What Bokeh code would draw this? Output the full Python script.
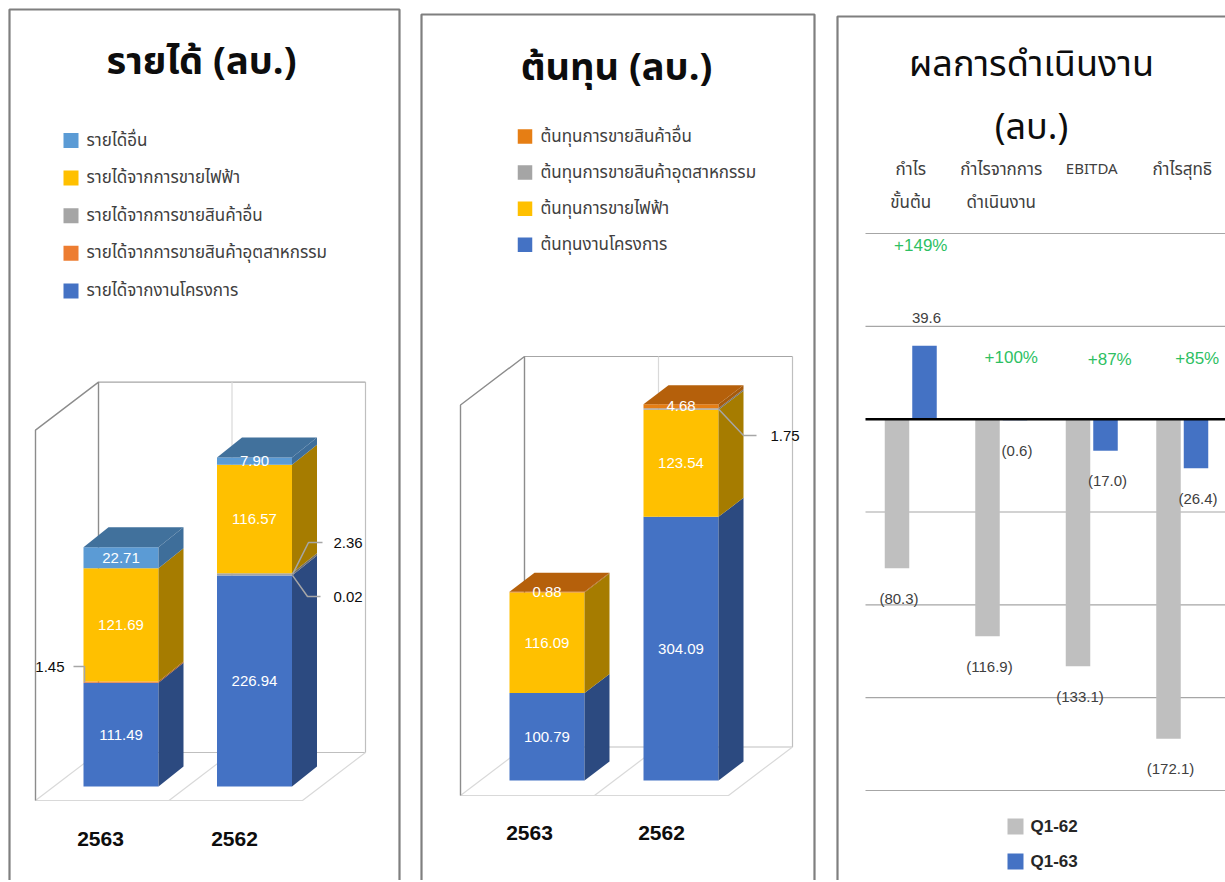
from bokeh.plotting import figure
from bokeh.layouts import row
from bokeh.models import Range1d
from bokeh.core.properties import value
from bokeh.embed import file_html
from bokeh.resources import INLINE

# ---------------- data ----------------
years = ["2563", "2562"]

rev_names = ["รายได้จากงานโครงการ", "รายได้จากการขายสินค้าอุตสาหกรรม",
             "รายได้จากการขายสินค้าอื่น", "รายได้จากการขายไฟฟ้า", "รายได้อื่น"]
rev_project = [111.49, 226.94]
rev_industrial = [1.45, 0.02]
rev_other_goods = [0.00, 2.36]
rev_electricity = [121.69, 116.57]
rev_other = [22.71, 7.90]

cost_names = ["ต้นทุนงานโครงการ", "ต้นทุนการขายไฟฟ้า",
              "ต้นทุนการขายสินค้าอุตสาหกรรม", "ต้นทุนการขายสินค้าอื่น"]
cost_project = [100.79, 304.09]
cost_electricity = [116.09, 123.54]
cost_industrial = [0.00, 1.75]
cost_other = [0.88, 4.68]

perf_cats = ["กำไร\nขั้นต้น", "กำไรจากการ\nดำเนินงาน", "EBITDA", "กำไรสุทธิ"]
perf_series = ["Q1-62", "Q1-63"]
perf_q1_62 = [-80.3, -116.9, -133.1, -172.1]
perf_q1_63 = [39.6, -0.6, -17.0, -26.4]
perf_change = ["+149%", "+100%", "+87%", "+85%"]
perf_ticks = [100, 50, 0, -50, -100, -150, -200]

titles = ["รายได้ (ลบ.)", "ต้นทุน (ลบ.)", "ผลการดำเนินงาน", "(ลบ.)"]

# ---------------- styles ----------------
THAI = value("Noto Sans Thai, Noto Sans, Tahoma, sans-serif")
LAT = value("Liberation Sans, Arial, sans-serif")
BORDER = "#7F7F7F"
TOP_PAGE, BOT_PAGE = 0, 880
H = BOT_PAGE - TOP_PAGE


def make_fig(x0, x1, v0, s):
    p = figure(width=int(x1 - x0), height=H, x_range=Range1d(x0, x1),
               y_range=Range1d((v0 - BOT_PAGE) / s, (v0 - TOP_PAGE) / s),
               x_axis_type=None, y_axis_type=None, toolbar_location=None,
               output_backend="svg", min_border=0, outline_line_color=None,
               title=None, background_fill_color="white",
               border_fill_color="white")
    return p, (lambda py: (v0 - py) / s)


def line(p, Y, pts, color, width=1.0):
    p.line([a for a, _ in pts], [Y(b) for _, b in pts], line_color=color,
           line_width=width)


def txt(p, x, y, t, size, color, font, align="center", style="normal"):
    p.text(x=[x], y=[y], text=[t], text_font_size=size, text_color=color,
           text_font=font, text_align=align, text_baseline="middle",
           text_font_style=style)


def border(p, Y, left, top, right):
    pts = [(left, 1000), (left, top), (right, top)]
    if right < 1300:
        pts.append((right, 1000))
    line(p, Y, pts, BORDER, 2.2)


def walls(p, Y, L, B, dxw, dyw, fy, mid, wt):
    # L: left-front x, B: back-wall left x, fy: floor front y, wt: wall top y
    bx1 = B + (mid - B) * 2
    fx1 = bx1 - dxw
    line(p, Y, [(B, wt), (bx1, wt)], "#A6A6A6", 1.2)
    line(p, Y, [(bx1, wt), (bx1, fy - dyw)], "#BFBFBF", 1.2)
    line(p, Y, [(B, fy - dyw), (bx1, fy - dyw)], "#BFBFBF", 1.2)
    line(p, Y, [(mid, wt), (mid, fy - dyw)], "#D9D9D9", 1.2)
    line(p, Y, [(L, fy), (fx1, fy), (bx1, fy - dyw)], "#D9D9D9", 1.2)
    line(p, Y, [(L, fy), (B, fy - dyw)], "#D9D9D9", 1.2)
    line(p, Y, [(mid - dxw, fy), (mid, fy - dyw)], "#D9D9D9", 1.2)
    line(p, Y, [(L, fy), (L, wt + dyw), (B, wt), (B, fy - dyw)], "#8C8C8C", 1.4)


def bars3d(p, centers, stacks, fronts, sides, top_color, s, bw, dx, dy_px):
    dy = dy_px / s
    cum = [0.0] * len(centers)
    bands = []
    for vals, fc, sc in zip(stacks, fronts, sides):
        bot = cum[:]
        top = [b + v for b, v in zip(bot, vals)]
        p.quad(left=[c - bw / 2 for c in centers],
               right=[c + bw / 2 for c in centers],
               bottom=bot, top=top, fill_color=fc, line_color=None)
        p.patches([[c + bw / 2, c + bw / 2 + dx, c + bw / 2 + dx, c + bw / 2]
                   for c in centers],
                  [[b, b + dy, t + dy, t] for b, t in zip(bot, top)],
                  fill_color=sc, line_color=None)
        bands.append(list(zip(bot, top)))
        cum = top
    p.patches([[c - bw / 2, c + bw / 2, c + bw / 2 + dx, c - bw / 2 + dx]
               for c in centers],
              [[t, t, t + dy, t + dy] for t in cum],
              fill_color=top_color, line_color=None)
    return bands


def leaders(p, Y, bands, stacks, specs):
    for k, i, ex, pts, lx, al in specs:
        b, t = bands[k][i]
        ys = [(b + t) / 2] + [Y(q) for _, q in pts]
        p.line([ex] + [q for q, _ in pts], ys, line_color="#A6A6A6",
               line_width=1.5)
        txt(p, lx, ys[-1], f"{stacks[k][i]:.2f}", "15px", "#0D0D0D", LAT,
            align=al)


# ================= panel 1: revenue =================
S1 = 0.93
p1, Y1 = make_fig(0, 414, 786, S1)
border(p1, Y1, 9, 9, 399)
txt(p1, 201, Y1(62), titles[0], "38px", "#0D0D0D", THAI, style="bold")
rev_colors = ["#4472C4", "#ED7D31", "#A5A5A5", "#FFC000", "#5B9BD5"]
rev_sides = ["#2C4A80", "#A4541E", "#707070", "#A67C00", "#3E6E9A"]
for j, (nm, col) in enumerate(zip(rev_names[::-1], rev_colors[::-1])):
    yy = Y1(140 + 37.6 * j)
    p1.scatter([70.5], [yy], marker="square", size=15, fill_color=col,
               line_color=None)
    txt(p1, 86, yy, nm, "17px", "#404040", THAI, align="left")
walls(p1, Y1, 35, 98, 63, 48, 800, 231.5, 381.6)
rev_stacks = [rev_project, rev_industrial, rev_other_goods, rev_electricity,
              rev_other]
c1 = [120.5, 254.0]
bands1 = bars3d(p1, c1, rev_stacks, rev_colors, rev_sides, "#41719C", S1,
                75, 25, 20)
for k in (0, 3, 4):
    for i, c in enumerate(c1):
        b, t = bands1[k][i]
        txt(p1, c, (b + t) / 2, f"{rev_stacks[k][i]:.2f}", "15px", "white", LAT)
leaders(p1, Y1, bands1, rev_stacks,
        [(1, 0, 84, [(84, 666), (73, 666)], 64, "right"),
         (2, 1, 292, [(308, 542), (322, 542)], 333, "left"),
         (1, 1, 292, [(307, 596), (320, 596)], 333, "left")])
for x, yr in zip([100, 234], years):
    txt(p1, x, Y1(838), yr, "21px", "#0D0D0D", LAT, style="bold")

# ================= panel 2: cost =================
S2 = 0.867
p2, Y2 = make_fig(414, 829, 780, S2)
border(p2, Y2, 421, 14, 814)
txt(p2, 616, Y2(68), titles[1], "38px", "#0D0D0D", THAI, style="bold")
cost_colors = ["#4472C4", "#FFC000", "#A5A5A5", "#E67E14"]
cost_sides = ["#2C4A80", "#A67C00", "#707070", "#A65A0B"]
for j, (nm, col) in enumerate(zip(cost_names[::-1], cost_colors[::-1])):
    yy = Y2(136 + 36.1 * j)
    p2.scatter([524.5], [yy], marker="square", size=14.5, fill_color=col,
               line_color=None)
    txt(p2, 540, yy, nm, "17px", "#404040", THAI, align="left")
walls(p2, Y2, 460, 524, 64, 48.5, 795, 658, 356)
cost_stacks = [cost_project, cost_electricity, cost_industrial, cost_other]
c2 = [546.5, 680.5]
bands2 = bars3d(p2, c2, cost_stacks, cost_colors, cost_sides, "#B5600B", S2,
                75, 25, 19)
for k in (0, 1, 3):
    for i, c in enumerate(c2):
        b, t = bands2[k][i]
        txt(p2, c, (b + t) / 2, f"{cost_stacks[k][i]:.2f}", "15px", "white", LAT)
leaders(p2, Y2, bands2, cost_stacks,
        [(2, 1, 718, [(743, 435), (756, 435)], 770, "left")])
for x, yr in zip([529, 661], years):
    txt(p2, x, Y2(832), yr, "21px", "#0D0D0D", LAT, style="bold")

# ================= panel 3: performance =================
S3 = 557 / 300
V03 = 233 + 100 * S3
p3, Y3 = make_fig(829, 1225, V03, S3)
border(p3, Y3, 837, 16, 2000)
txt(p3, 1031, Y3(64), titles[2], "36px", "#0D0D0D", THAI)
txt(p3, 1031, Y3(127), titles[3], "36px", "#0D0D0D", THAI)
PX0, CW = 865, 90.5
cc = [PX0 + CW * (i + 0.5) for i in range(len(perf_cats))]
for t in perf_ticks:
    if t == 0:
        continue
    p3.line([PX0, 1300], [t, t], line_color="#A6A6A6", line_width=1.2)
for c, lab in zip(cc, perf_cats):
    size = "15px" if lab.isascii() else "17px"
    for j, part in enumerate(lab.split("\n")):
        txt(p3, c, Y3(169 + 33 * j), part, size, "#404040", THAI)
off = 13.75
p3.vbar(x=[c - off for c in cc], width=24.5, top=perf_q1_62, bottom=0,
        fill_color="#BFBFBF", line_color=None)
p3.vbar(x=[c + off for c in cc], width=24.5, top=perf_q1_63, bottom=0,
        fill_color="#4472C4", line_color=None)
p3.line([PX0, 1300], [0, 0], line_color="black", line_width=2.5)
for vals, sgn in ((perf_q1_62, -1), (perf_q1_63, 1)):
    for c, v in zip(cc, vals):
        lab = f"({-v:.1f})" if v < 0 else f"{v:.1f}"
        yy = v - 30 / S3 if v < 0 else v + 28 / S3
        txt(p3, c + sgn * off + 2, yy, lab, "15px", "#404040", LAT)
pct_pos = [(10, 245), (10, 357), (18, 359), (15, 358)]
for c, lab, (dxp, py) in zip(cc, perf_change, pct_pos):
    txt(p3, c + dxp, Y3(py), lab, "17px", "#2EBF63", LAT)
for j, (nm, col) in enumerate(zip(perf_series, ["#BFBFBF", "#4472C4"])):
    yy = Y3(826 + 35 * j)
    p3.scatter([1015], [yy], marker="square", size=16, fill_color=col,
               line_color=None)
    txt(p3, 1030, yy, nm, "17px", "#262626", LAT, align="left", style="bold")

layout = row(p1, p2, p3, spacing=0)
open("out.html", "w").write(file_html(layout, INLINE))
